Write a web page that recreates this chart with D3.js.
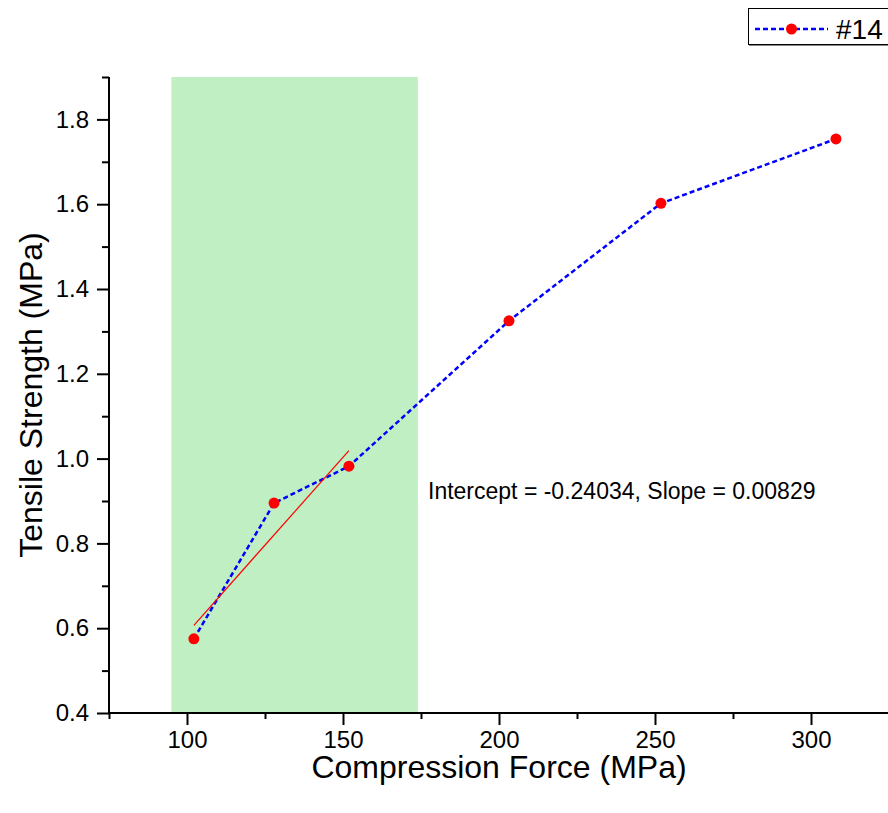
<!DOCTYPE html>
<html>
<head>
<meta charset="utf-8">
<script src="https://cdn.jsdelivr.net/npm/d3@7"></script>
<style>
  body { margin: 0; background: #fff; }
  text { font-family: "Liberation Sans", Arial, sans-serif; fill: #000; }
</style>
</head>
<body>
<div id="chart"></div>
<script>
// data
var force = [102.2, 127.9, 151.9, 203.2, 251.9, 308.0];
var strength = [0.575, 0.895, 0.982, 1.325, 1.602, 1.754];
var fitIntercept = -0.24034, fitSlope = 0.00829;
var fitRange = [102.2, 151.9];
var region = [95, 174];
var xTicks = [100, 150, 200, 250, 300];
var yTicks = [0.4, 0.6, 0.8, 1.0, 1.2, 1.4, 1.6, 1.8];
var seriesName = "#14";

var width = 888, height = 813;
var plotL = 109, plotR = 889, plotT = 77, plotB = 713;

var svg = d3.select('#chart').append('svg')
  .attr('width', width)
  .attr('height', height);

var scaleX = d3.scaleLinear().domain([75, 325]).range([plotL, plotR]);
var scaleY = d3.scaleLinear().domain([0.4, 1.9]).range([plotB, plotT]);

// highlighted range
svg.append('rect')
  .attr('x', scaleX(region[0]))
  .attr('y', scaleY(1.9))
  .attr('width', scaleX(region[1]) - scaleX(region[0]))
  .attr('height', scaleY(0.4) - scaleY(1.9))
  .attr('fill', '#c1efc4');

// minor ticks
var xMinor = d3.range(75, 326, 50);
var yMinor = d3.range(0.5, 1.95, 0.2);

var axisX = d3.axisBottom(scaleX).tickValues(xTicks).tickSize(12).tickPadding(6).tickFormat(d3.format('d'));
var axisXMinor = d3.axisBottom(scaleX).tickValues(xMinor).tickSize(6).tickFormat('');
var axisY = d3.axisLeft(scaleY).tickValues(yTicks).tickSize(12).tickPadding(8).tickFormat(d3.format('.1f'));
var axisYMinor = d3.axisLeft(scaleY).tickValues(yMinor).tickSize(7).tickFormat('');

function styleAxis(g) {
  g.selectAll('path').attr('stroke', '#000').attr('stroke-width', 2);
  g.selectAll('line').attr('stroke', '#000').attr('stroke-width', 2);
  g.selectAll('text').style('font-size', '24px').attr('fill', '#000');
}

var gx = svg.append('g').attr('transform', 'translate(0,' + plotB + ')').call(axisX).call(styleAxis);
svg.append('g').attr('transform', 'translate(0,' + plotB + ')').call(axisXMinor).call(styleAxis)
  .select('.domain').remove();
var gy = svg.append('g').attr('transform', 'translate(' + plotL + ',0)').call(axisY).call(styleAxis);
svg.append('g').attr('transform', 'translate(' + plotL + ',0)').call(axisYMinor).call(styleAxis)
  .select('.domain').remove();
gx.selectAll('.domain').attr('d', 'M' + (plotL - 1) + ',0H' + plotR);
gy.selectAll('.domain').attr('d', 'M0,' + plotT + 'V' + (plotB + 1));

// axis titles
svg.append('text')
  .attr('x', (plotL + plotR) / 2)
  .attr('y', 778)
  .attr('text-anchor', 'middle')
  .style('font-size', '32px')
  .text('Compression Force (MPa)');

svg.append('text')
  .attr('transform', 'translate(42,' + (plotT + plotB) / 2 + ') rotate(-90)')
  .attr('text-anchor', 'middle')
  .style('font-size', '32px')
  .text('Tensile Strength (MPa)');

// data line
var pts = force.map(function(f, i) { return { x: f, y: strength[i] }; });
var lineFunc = d3.line()
  .x(function(d) { return scaleX(d.x); })
  .y(function(d) { return scaleY(d.y); });

svg.append('path')
  .datum(pts)
  .attr('d', lineFunc)
  .attr('fill', 'none')
  .attr('stroke', '#0000ff')
  .attr('stroke-width', 2.5)
  .attr('stroke-dasharray', '5,3');

// linear fit
var fitPts = fitRange.map(function(x) { return { x: x, y: fitIntercept + fitSlope * x }; });
svg.append('path')
  .datum(fitPts)
  .attr('d', lineFunc)
  .attr('fill', 'none')
  .attr('stroke', '#ff0000')
  .attr('stroke-width', 1.2);

svg.selectAll('.pt').data(pts).enter().append('circle')
  .attr('class', 'pt')
  .attr('cx', function(d) { return scaleX(d.x); })
  .attr('cy', function(d) { return scaleY(d.y); })
  .attr('r', 5.5)
  .attr('fill', '#ff0000');

svg.append('text')
  .attr('x', 428)
  .attr('y', 499)
  .style('font-size', '23px')
  .text('Intercept = ' + fitIntercept + ', Slope = ' + fitSlope);

// legend
var lg = svg.append('g');
lg.append('rect').attr('x', 749).attr('y', 10).attr('width', 160).attr('height', 36).attr('fill', '#888');
lg.append('rect').attr('x', 748.5).attr('y', 8.5).attr('width', 160).attr('height', 36)
  .attr('fill', '#fff').attr('stroke', '#000').attr('stroke-width', 1);
lg.append('line').attr('x1', 755).attr('x2', 828).attr('y1', 29).attr('y2', 29)
  .attr('stroke', '#0000ff').attr('stroke-width', 2.5).attr('stroke-dasharray', '5,3');
lg.append('circle').attr('cx', 791.5).attr('cy', 29).attr('r', 5.5).attr('fill', '#ff0000');
lg.append('text').attr('x', 836).attr('y', 39).style('font-size', '28px').text(seriesName);
</script>
</body>
</html>
